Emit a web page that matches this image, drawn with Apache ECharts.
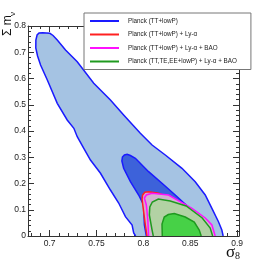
<!DOCTYPE html>
<html><head><meta charset="utf-8">
<script src="https://cdn.jsdelivr.net/npm/echarts@6/dist/echarts.min.js"></script>
<style>html,body{margin:0;padding:0;background:#fff}#c{width:273px;height:263px}</style>
</head><body><div id="c"></div>
<script>
// Axis ranges and ticks
const xRange = [0.677, 0.902];
const yRange = [0, 0.8];
const xMajorTicks = [0.7, 0.75, 0.8, 0.85, 0.9];
const xMinorTicks = [0.68, 0.69, 0.71, 0.72, 0.73, 0.74, 0.76, 0.77, 0.78, 0.79, 0.81, 0.82, 0.83, 0.84, 0.86, 0.87, 0.88, 0.89];
const xTickLabels = ['0.7', '0.75', '0.8', '0.85', '0.9'];
const yTickLabels = ['0', '0.1', '0.2', '0.3', '0.4', '0.5', '0.6', '0.7', '0.8'];

const legendNames = ['Planck (TT+lowP)', 'Planck (TT+lowP) + Ly-\u03b1', 'Planck (TT+lowP) + Ly-\u03b1 + BAO', 'Planck (TT,TE,EE+lowP) + Ly-\u03b1 + BAO'];

// Contours: [sigma8, sum m_nu] points, open along the lower edge
const planck95 = [[0.7918,0],[0.7897,0.0114],[0.7880,0.0419],[0.7809,0.0735],[0.7737,0.1257],[0.7649,0.1752],[0.7543,0.2389],[0.7436,0.2895],[0.7365,0.3341],[0.7295,0.3783],[0.7259,0.4103],[0.7188,0.4419],[0.7082,0.5055],[0.6976,0.5943],[0.6904,0.6514],[0.6872,0.6857],[0.6853,0.7162],[0.6854,0.7467],[0.6867,0.7657],[0.6888,0.7733],[0.6926,0.7745],[0.7003,0.7722],[0.7037,0.7638],[0.7082,0.7467],[0.7170,0.7086],[0.7295,0.6640],[0.7471,0.5817],[0.7649,0.5181],[0.7790,0.4610],[0.7968,0.3912],[0.8093,0.3467],[0.8234,0.3086],[0.8412,0.2579],[0.8553,0.2069],[0.8660,0.1562],[0.8731,0.1055],[0.8801,0.0545],[0.8837,0.0229],[0.8851,0]];
const planck68 = [[0.8032,0],[0.8011,0.0419],[0.8003,0.1181],[0.7950,0.1562],[0.7862,0.2069],[0.7790,0.2579],[0.7771,0.2857],[0.7777,0.3010],[0.7798,0.3086],[0.7827,0.3112],[0.7862,0.3067],[0.7915,0.2960],[0.8056,0.2450],[0.8199,0.2008],[0.8340,0.1562],[0.8479,0.1105],[0.8574,0.0610],[0.8628,0]];
const lya95 = [[0.8039,0],[0.8021,0.0419],[0.8003,0.0926],[0.7986,0.1410],[0.7992,0.1562],[0.8016,0.1665],[0.8056,0.1688],[0.8163,0.1627],[0.8287,0.1448],[0.8447,0.1181],[0.8606,0.0800],[0.8691,0.0381],[0.8723,0]];
const bao95 = [[0.8056,0],[0.8048,0.0610],[0.8032,0.1181],[0.8011,0.1448],[0.8032,0.1562],[0.8093,0.1627],[0.8269,0.1562],[0.8518,0.1055],[0.8660,0.0686],[0.8731,0.0419],[0.8766,0]];
const full95 = [[0.8106,0],[0.8093,0.0229],[0.8064,0.0800],[0.8069,0.1105],[0.8096,0.1295],[0.8160,0.1410],[0.8287,0.1333],[0.8457,0.1143],[0.8628,0.0686],[0.8713,0.0305],[0.8739,0]];
const full68 = [[0.8202,0],[0.8199,0.0457],[0.8223,0.0724],[0.8266,0.0819],[0.8330,0.0857],[0.8447,0.0724],[0.8543,0.0533],[0.8596,0.0229],[0.8617,0]];

function contourSeries(name, contours, fills, stroke) {
  return {
    type: 'custom', name: name, clip: true,
    xAxisIndex: 0, yAxisIndex: 0,
    itemStyle: { color: stroke },
    data: contours.map(c => c[0]),
    renderItem: function (params, api) {
      const pts = contours[params.dataIndex].map(p => api.coord(p));
      return { type: 'group', children: [
        { type: 'polygon', shape: { points: pts }, style: { fill: fills[params.dataIndex], stroke: null } },
        { type: 'polyline', shape: { points: pts }, style: { fill: null, stroke: stroke, lineWidth: 1.5 } }
      ]};
    }
  };
}

const axisColor = '#333';
const labelFont = { fontFamily: 'Liberation Sans', fontSize: 8.5, color: '#222' };
const chart = echarts.init(document.getElementById('c'), null, { renderer: 'canvas' });
chart.setOption({
  animation: false,
  backgroundColor: '#fff',
  grid: { left: 28, right: 34, top: 26, bottom: 27, containLabel: false },
  xAxis: [
    { type: 'value', position: 'bottom', min: xRange[0], max: xRange[1], splitLine: { show: false },
      axisLine: { show: true, lineStyle: { color: axisColor } },
      axisTick: { show: true, inside: true, length: 6, customValues: xMajorTicks, lineStyle: { color: axisColor } },
      axisLabel: Object.assign({ show: true, margin: 3, customValues: xMajorTicks,
        formatter: v => xTickLabels[xMajorTicks.findIndex(t => Math.abs(t - v) < 1e-6)] }, labelFont) },
    { type: 'value', position: 'bottom', min: xRange[0], max: xRange[1], splitLine: { show: false },
      axisLine: { show: false },
      axisTick: { show: true, inside: true, length: 3, customValues: xMinorTicks, lineStyle: { color: axisColor } },
      axisLabel: { show: false } },
    { type: 'value', position: 'top', min: xRange[0], max: xRange[1], splitLine: { show: false },
      axisLine: { show: true, lineStyle: { color: axisColor } },
      axisTick: { show: true, inside: true, length: 6, customValues: xMajorTicks, lineStyle: { color: axisColor } },
      axisLabel: { show: false } },
    { type: 'value', position: 'top', min: xRange[0], max: xRange[1], splitLine: { show: false },
      axisLine: { show: false },
      axisTick: { show: true, inside: true, length: 3, customValues: xMinorTicks, lineStyle: { color: axisColor } },
      axisLabel: { show: false } }
  ],
  yAxis: [
    { type: 'value', position: 'left', min: yRange[0], max: yRange[1], interval: 0.1, splitLine: { show: false },
      axisLine: { show: true, lineStyle: { color: axisColor } },
      axisTick: { show: true, inside: true, length: 6, lineStyle: { color: axisColor } },
      minorTick: { show: true, splitNumber: 5, length: 3, lineStyle: { color: axisColor } },
      axisLabel: Object.assign({ show: true, margin: 2, formatter: v => yTickLabels[Math.round(v * 10)] }, labelFont) },
    { type: 'value', position: 'right', min: yRange[0], max: yRange[1], interval: 0.1, splitLine: { show: false },
      axisLine: { show: true, lineStyle: { color: axisColor } },
      axisTick: { show: true, inside: true, length: 6, lineStyle: { color: axisColor } },
      minorTick: { show: true, splitNumber: 5, length: 3, lineStyle: { color: axisColor } },
      axisLabel: { show: false } }
  ],
  legend: {
    left: 84, top: 13, orient: 'vertical', backgroundColor: '#fff',
    borderColor: '#777', borderWidth: 1, borderRadius: 0,
    padding: [5, 14, 5, 6], itemGap: 7.5, itemWidth: 29, itemHeight: 2,
    textStyle: { fontFamily: 'Liberation Sans', fontSize: 6.3, color: '#222', padding: [0, 0, 0, 4] },
    data: legendNames.map(n => ({ name: n, icon: 'rect' }))
  },
  graphic: [
    { type: 'text', x: 2, y: 36, rotation: Math.PI / 2, style: { text: '\u03a3 m', font: '12px "Liberation Sans"', fill: '#111', align: 'left', verticalAlign: 'top' } },
    { type: 'text', x: 9, y: 16, rotation: Math.PI / 2, style: { text: '\u03bd', font: '8px "Liberation Sans"', fill: '#111', align: 'left', verticalAlign: 'top' } },
    { type: 'text', x: 226, y: 244, style: { text: '\u03c3', font: '17px "Liberation Serif"', fill: '#111', align: 'left', verticalAlign: 'top' } },
    { type: 'text', x: 235, y: 251, style: { text: '8', font: '10px "Liberation Serif"', fill: '#111', align: 'left', verticalAlign: 'top' } }
  ],
  series: [
    contourSeries(legendNames[0], [planck95, planck68], ['#a5c3e3', '#3d62da'], '#1a1aff'),
    contourSeries(legendNames[1], [lya95], ['#dba3cc'], '#ff2020'),
    contourSeries(legendNames[2], [bao95], ['#d3b2d2'], '#ff10ff'),
    contourSeries(legendNames[3], [full95, full68], ['#b2d2a4', '#47d147'], '#1f9a1f')
  ]
});
</script></body></html>
